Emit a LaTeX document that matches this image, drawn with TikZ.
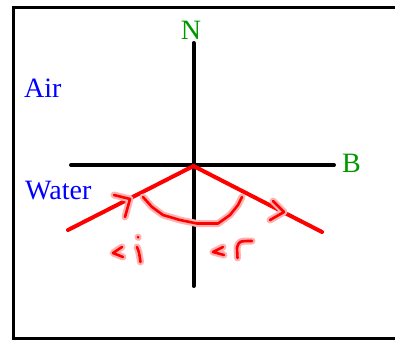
\documentclass[tikz,border=0pt]{standalone}
\usepackage{fontspec}
\setmainfont{Liberation Serif}
\definecolor{lblgreen}{RGB}{0,150,0}
\begin{document}
\begin{tikzpicture}[x=1pt,y=-1pt,
  axis/.style={line width=4pt, line cap=round},
  ray/.style={red, line width=4pt, line cap=round},
  frame/.style={line width=3.5pt},
  ink/.style={red, line width=2.6pt, line cap=round, line join=round},
  halo/.style={red!30, line width=7pt, line cap=round, line join=round},
  lbl/.style={font=\fontsize{28}{28}\selectfont, inner sep=0pt}]
\useasboundingbox (0,0) rectangle (395,340);
% frame (open on the right)
\coordinate (ftr) at (398,7.5);
\coordinate (ftl) at (11.75,7.5);
\coordinate (fltop) at (13.5,5.75);
\coordinate (flbot) at (13.5,340.25);
\coordinate (fbl) at (11.75,338.5);
\coordinate (fbr) at (398,338.5);
\draw[frame] (ftl) -- (ftr);
\draw[frame] (fltop) -- (flbot);
\draw[frame] (fbl) -- (fbr);
% labels
\node[lbl, text=blue, anchor=base west] (air) at (24,97) {Air};
\node[lbl, text=blue, anchor=base west] (water) at (25,199) {Water};
\node[lbl, text=lblgreen, anchor=base] (n) at (191,39.5) {N};
\node[lbl, text=lblgreen, anchor=base west] (b) at (342,172.5) {B};
% axes
\coordinate (O) at (193.5,166);
\coordinate (ntop) at (193.5,43);
\coordinate (nbot) at (193.5,286);
\coordinate (bl) at (71,165);
\coordinate (br) at (334,165);
\draw[axis] (ntop) -- (nbot);
\draw[axis] (bl) -- (br);
% rays
\coordinate (inc) at (68,230);
\coordinate (refl) at (322,232);
\draw[ray] (inc) -- (O);
\draw[ray] (O) -- (refl);
% handwritten marks
\foreach \s in {halo,ink}{
  \draw[\s] (114,195) -- (130,199) -- (125,217);
  \draw[\s] (273,201) -- (284,212) -- (270,220);
  \draw[\s] (143,197) -- (152,207) -- (163,215) -- (180,220) -- (197,223.5) -- (218,223.5) -- (230,215) -- (238,205) -- (242,197);
  \draw[\s] (122,247) -- (113,253) -- (123,257);
  \draw[\s] (138,237) -- (138.2,237.4);
  \draw[\s] (137,247) .. controls (139,252) .. (140.5,262);
  \draw[\s] (223,247) -- (213,252) -- (224,255);
  \draw[\s] (237.5,258) -- (237,248) .. controls (239,241) .. (252,241);
}
\end{tikzpicture}
\end{document}
